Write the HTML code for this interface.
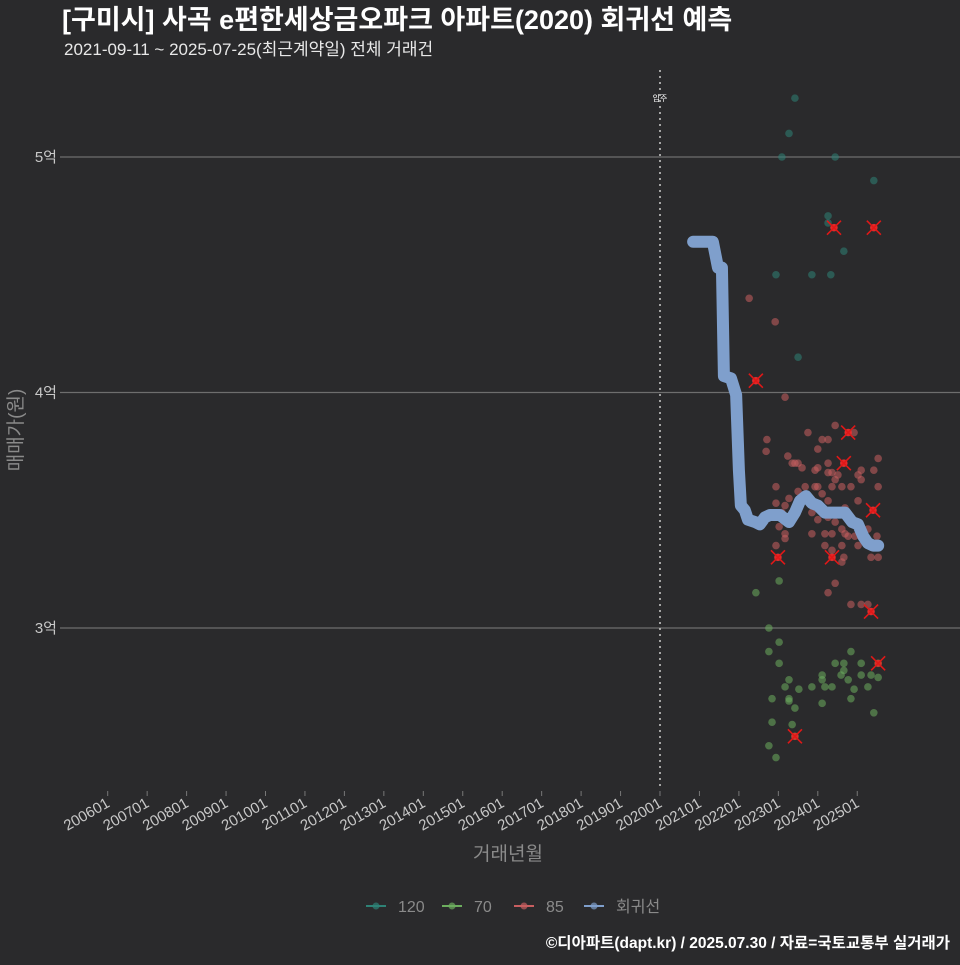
<!DOCTYPE html>
<html><head><meta charset="utf-8"><style>
body{margin:0;background:#2a2a2c;width:960px;height:960px;overflow:hidden;font-family:"Liberation Sans","Noto Sans CJK KR",sans-serif}
</style></head><body>
<svg id="c" width="960" height="960" xmlns="http://www.w3.org/2000/svg">
<rect width="960" height="960" fill="#2a2a2c"/>
<text x="62" y="29" fill="#fff" font-size="27" font-weight="bold" font-family="Liberation Sans,Noto Sans CJK KR,sans-serif">[구미시] 사곡 e편한세상금오파크 아파트(2020) 회귀선 예측</text>
<text x="64" y="55" fill="#e8e8e8" font-size="17" font-family="Liberation Sans,Noto Sans CJK KR,sans-serif">2021-09-11 ~ 2025-07-25(최근계약일) 전체 거래건</text>
<g id="grid"></g><g id="marks"></g><g id="axes"></g>
<text transform="translate(22,430) rotate(-90)" text-anchor="middle" fill="#8a8a8a" font-size="19" font-family="Liberation Sans,Noto Sans CJK KR,sans-serif">매매가(원)</text>
<text x="508" y="860" text-anchor="middle" fill="#8a8a8a" font-size="19" font-family="Liberation Sans,Noto Sans CJK KR,sans-serif">거래년월</text>
<g id="legend"></g>
<text x="950" y="948" text-anchor="end" fill="#fff" font-size="15.5" font-weight="bold" font-family="Liberation Sans,Noto Sans CJK KR,sans-serif">©디아파트(dapt.kr) / 2025.07.30 / 자료=국토교통부 실거래가</text>
</svg>
<script>
const yTicks=[3,4,5];
const yTickLabels=["3억","4억","5억"];
const xTickYears=[2006,2007,2008,2009,2010,2011,2012,2013,2014,2015,2016,2017,2018,2019,2020,2021,2022,2023,2024,2025];
const s120=[[2023.42,5.25],[2023.27,5.10],[2023.09,5.00],[2024.44,5.00],[2025.42,4.90],[2024.26,4.75],[2024.26,4.72],[2024.66,4.60],[2022.94,4.50],[2023.85,4.50],[2024.33,4.50],[2023.50,4.15]];
const s85=[[2022.26,4.40],[2022.92,4.30],[2023.17,3.98],[2022.43,4.05],[2024.44,3.86],[2024.77,3.83],[2024.92,3.83],[2023.75,3.83],[2022.71,3.80],[2022.69,3.75],[2024.11,3.80],[2024.26,3.80],[2024.00,3.76],[2023.24,3.73],[2023.35,3.70],[2023.42,3.70],[2023.50,3.70],[2023.60,3.68],[2023.93,3.67],[2024.00,3.68],[2024.26,3.70],[2024.26,3.66],[2024.36,3.66],[2024.51,3.65],[2024.66,3.70],[2025.10,3.67],[2025.02,3.65],[2025.10,3.63],[2025.53,3.72],[2025.42,3.67],[2024.44,3.63],[2022.94,3.60],[2023.68,3.60],[2023.93,3.60],[2024.00,3.60],[2024.36,3.60],[2024.61,3.60],[2024.84,3.60],[2025.53,3.60],[2023.50,3.58],[2024.11,3.57],[2023.27,3.55],[2022.94,3.53],[2023.17,3.52],[2023.60,3.54],[2024.26,3.54],[2025.02,3.54],[2023.09,3.49],[2023.35,3.49],[2023.85,3.49],[2024.69,3.51],[2025.40,3.50],[2024.26,3.47],[2024.44,3.45],[2024.00,3.46],[2024.61,3.42],[2024.69,3.40],[2024.77,3.39],[2024.94,3.39],[2023.02,3.43],[2023.17,3.40],[2023.17,3.38],[2023.85,3.40],[2024.18,3.40],[2024.36,3.40],[2025.27,3.42],[2025.50,3.39],[2022.94,3.35],[2024.18,3.35],[2024.61,3.35],[2025.02,3.35],[2022.99,3.30],[2024.36,3.30],[2024.36,3.33],[2024.66,3.30],[2024.61,3.28],[2025.35,3.30],[2025.53,3.30],[2024.44,3.19],[2024.26,3.15],[2024.84,3.10],[2025.10,3.10],[2025.27,3.10],[2025.35,3.07],[2024.41,4.70],[2025.42,4.70]];
const s70=[[2023.02,3.20],[2022.43,3.15],[2022.76,3.00],[2023.02,2.94],[2022.76,2.90],[2023.02,2.85],[2023.27,2.78],[2023.17,2.75],[2023.52,2.74],[2022.84,2.70],[2023.27,2.70],[2023.27,2.69],[2023.42,2.66],[2022.84,2.60],[2023.35,2.59],[2023.42,2.54],[2022.76,2.50],[2022.94,2.45],[2024.11,2.80],[2024.11,2.78],[2023.85,2.75],[2024.18,2.75],[2024.36,2.75],[2024.11,2.68],[2024.44,2.85],[2024.66,2.85],[2024.66,2.82],[2024.59,2.80],[2024.77,2.78],[2024.84,2.90],[2025.10,2.85],[2025.10,2.80],[2024.92,2.74],[2024.84,2.70],[2025.27,2.75],[2025.35,2.80],[2025.53,2.79],[2025.53,2.85],[2025.42,2.64]];
const outliers=[[2022.43,4.05],[2024.41,4.70],[2025.42,4.70],[2024.77,3.83],[2024.66,3.70],[2025.40,3.50],[2022.99,3.30],[2024.36,3.30],[2025.35,3.07],[2023.42,2.54],[2025.53,2.85]];
const regT=[2020.84,2021.34,2021.47,2021.57,2021.62,2021.80,2021.93,2022.00,2022.05,2022.15,2022.23,2022.41,2022.53,2022.66,2022.79,2023.04,2023.27,2023.42,2023.55,2023.70,2023.85,2024.00,2024.18,2024.36,2024.51,2024.69,2024.87,2025.02,2025.15,2025.27,2025.40,2025.53];
const regP=[4.64,4.64,4.53,4.53,4.07,4.06,3.99,3.67,3.52,3.50,3.46,3.45,3.44,3.47,3.48,3.48,3.45,3.49,3.54,3.56,3.53,3.52,3.49,3.49,3.49,3.49,3.45,3.44,3.39,3.36,3.35,3.35];
const legendLabels=["120","70","85","회귀선"];
const NS="http://www.w3.org/2000/svg";
const X=t=>660+(t-2020)*39.45, Y=p=>628-(p-3)*235.5;
function mk(tag,attrs,parent){const e=document.createElementNS(NS,tag);for(const k in attrs)e.setAttribute(k,attrs[k]);parent.appendChild(e);return e;}
const G=document.getElementById('grid'),M=document.getElementById('marks'),A=document.getElementById('axes'),L=document.getElementById('legend');
const FF="Liberation Sans,Noto Sans CJK KR,sans-serif";
yTicks.forEach((v,i)=>{
 const l=mk('line',{x1:60,x2:960,y1:Y(v),y2:Y(v),stroke:'#6e6e6e','stroke-width':1.3},G);
 
 
 const t=mk('text',{x:57,y:Y(v)+5,'text-anchor':'end',fill:'#c8c8c8','font-size':15,'font-family':FF},A);
 t.textContent=yTickLabels[i];
 
 
});
xTickYears.forEach(y=>{
 const x=X(y);
 const tk=mk('line',{x1:x,x2:x,y1:791,y2:796,stroke:'#777','stroke-width':1},A);
 
 
 const t=mk('text',{x:x+3,y:806,'text-anchor':'end',fill:'#c8c8c8','font-size':15,'font-family':FF,transform:`rotate(-30 ${x+3} 806)`},A);
 t.textContent=y+"01";
 
 
});
const vl=mk('line',{x1:X(2020),x2:X(2020),y1:70,y2:790,stroke:'#ccc','stroke-width':1.5,'stroke-dasharray':'2,4'},G);


const vt=mk('text',{x:X(2020),y:101,'text-anchor':'middle',fill:'#fff','font-size':8,'font-family':FF},G);
vt.textContent="입주";


function pts(arr,col,name){arr.forEach(d=>{const c=mk('circle',{cx:X(d[0]),cy:Y(d[1]),r:3.8,fill:col,'fill-opacity':0.55},M);
 
 });}
pts(s120,'#2e8276','point-120');pts(s70,'#6cad5e','point-70');pts(s85,'#c85e60','point-85');
const path=mk('path',{d:regT.map((t,i)=>(i?'L':'M')+X(t)+','+Y(regP[i])).join(' '),fill:'none',stroke:'#7f9fcc','stroke-width':12,'stroke-linejoin':'round','stroke-linecap':'round'},M);


outliers.forEach(d=>{const x=X(d[0]),y=Y(d[1]);
 const g=mk('g',{},M);
 
 
 mk('circle',{cx:x,cy:y,r:3.6,fill:'#ff2020','fill-opacity':0.8},g);
 mk('path',{d:`M${x-7},${y-7}L${x+7},${y+7}M${x+7},${y-7}L${x-7},${y+7}`,stroke:'#e01818','stroke-width':1.6},g);});
const lc=['#2e8276','#6cad5e','#c85e60','#7f9fcc'];const lx=[366,442,514,584];
legendLabels.forEach((s,i)=>{const g=mk('g',{},L);
 
 
 mk('line',{x1:lx[i],x2:lx[i]+20,y1:906,y2:906,stroke:lc[i],'stroke-width':2},g);
 mk('circle',{cx:lx[i]+10,cy:906,r:3.5,fill:lc[i],'fill-opacity':0.7},g);
 const t=mk('text',{x:lx[i]+32,y:912,fill:'#8a8a8a','font-size':16,'font-family':FF},g);t.textContent=s;});
</script>
</body></html>
